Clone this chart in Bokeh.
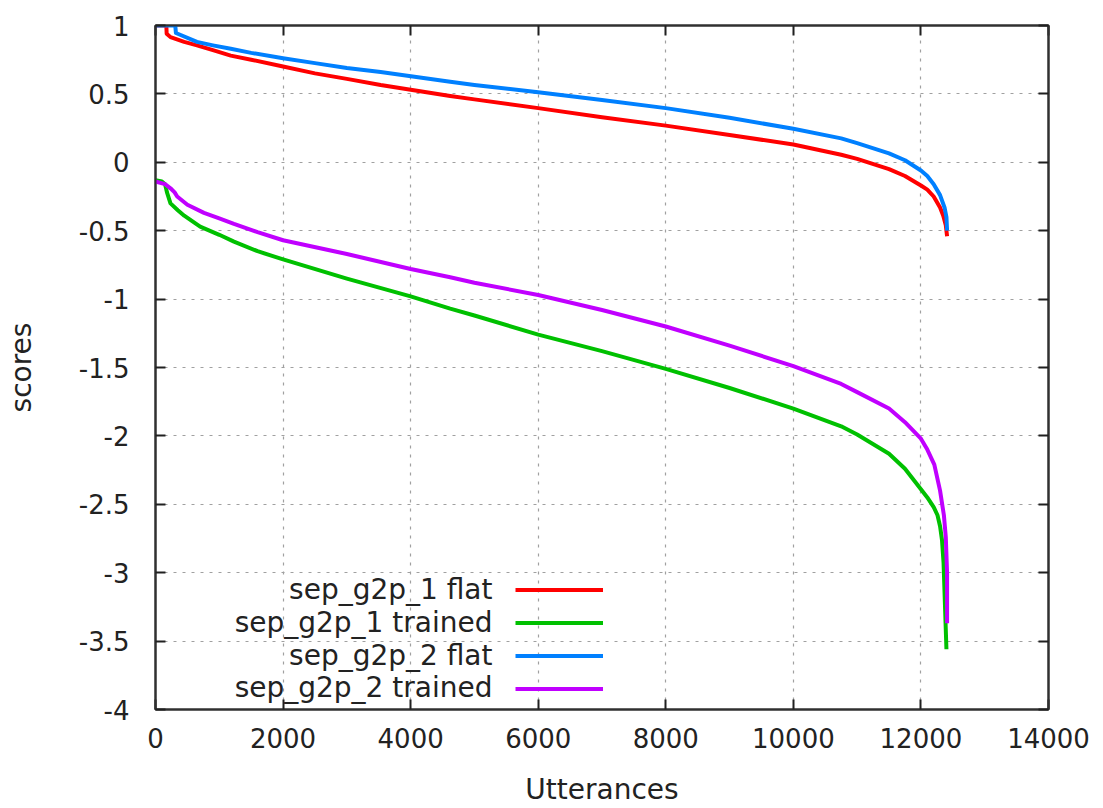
from bokeh.plotting import figure
from bokeh.models import FixedTicker, LinearAxis, Legend, LegendItem, Label
from bokeh.embed import file_html
from bokeh.resources import INLINE

# ---- data ----
red_x = [0, 170, 175, 235, 450, 650, 900, 1180, 1500, 2000, 2500, 3000, 3530, 4620, 5000, 6000, 7000, 8000, 9000, 10000,
         10750, 11000, 11500, 11750, 12000, 12100, 12200, 12300, 12350, 12390, 12410]
red_y = [1.0, 1.0, 0.94, 0.915, 0.88, 0.855, 0.82, 0.78, 0.75, 0.70, 0.65, 0.61, 0.565, 0.485, 0.46, 0.396, 0.33, 0.268, 0.20, 0.13,
         0.055, 0.025, -0.05, -0.10, -0.17, -0.20, -0.25, -0.33, -0.39, -0.46, -0.54]

green_x = [0, 100, 150, 180, 235, 350, 450, 700, 1000, 1230, 1600, 2000, 3000, 4000, 4620, 5000, 6000, 7000, 8000, 9000, 10000,
           10750, 11000, 11500, 11750, 12000, 12100, 12200, 12260, 12300, 12330, 12355, 12400]
green_y = [-0.13, -0.14, -0.16, -0.22, -0.30, -0.35, -0.39, -0.47, -0.53, -0.58, -0.65, -0.71, -0.85, -0.98, -1.07, -1.12, -1.26, -1.38, -1.51, -1.65, -1.80,
           -1.93, -1.99, -2.13, -2.24, -2.39, -2.45, -2.52, -2.58, -2.66, -2.76, -2.93, -3.56]

blue_x = [0, 310, 320, 650, 900, 1180, 1500, 2000, 2500, 3000, 3530, 4620, 5000, 6000, 7000, 8000, 9000, 10000,
          10750, 11000, 11500, 11750, 12000, 12100, 12200, 12300, 12370, 12400, 12410]
blue_y = [1.0, 1.0, 0.945, 0.88, 0.855, 0.83, 0.80, 0.76, 0.725, 0.69, 0.66, 0.589, 0.565, 0.512, 0.455, 0.396, 0.325, 0.245,
          0.175, 0.14, 0.065, 0.015, -0.06, -0.10, -0.16, -0.24, -0.33, -0.40, -0.50]

purple_x = [0, 150, 235, 300, 340, 500, 760, 1000, 1230, 1600, 2000, 3000, 4000, 4620, 5000, 6000, 7000, 8000, 9000, 10000,
            10750, 11000, 11500, 11750, 12000, 12100, 12210, 12300, 12360, 12390, 12410, 12410]
purple_y = [-0.14, -0.16, -0.19, -0.22, -0.25, -0.31, -0.37, -0.41, -0.45, -0.51, -0.57, -0.67, -0.78, -0.84, -0.88, -0.97, -1.08, -1.20, -1.34, -1.49,
            -1.62, -1.68, -1.80, -1.90, -2.02, -2.10, -2.21, -2.40, -2.58, -2.74, -3.0, -3.37]

series_names = ["sep_g2p_1 flat", "sep_g2p_1 trained", "sep_g2p_2 flat", "sep_g2p_2 trained"]
series_colors = ["#ff0000", "#00c000", "#0080ff", "#c000ff"]

x_ticks = [0, 2000, 4000, 6000, 8000, 10000, 12000, 14000]
x_tick_labels = ["0", "2000", "4000", "6000", "8000", "10000", "12000", "14000"]
y_ticks = [1, 0.5, 0, -0.5, -1, -1.5, -2, -2.5, -3, -3.5, -4]
y_tick_labels = ["1", "0.5", "0", "-0.5", "-1", "-1.5", "-2", "-2.5", "-3", "-3.5", "-4"]

FONT = "DejaVu Sans"
FS = "26px"
FS_TXT = "28px"
TXT = "#222222"

p = figure(width=1103, height=808, x_range=(0, 14000), y_range=(-4, 1),
           output_backend="svg", toolbar_location=None,
           min_border_left=155, min_border_right=55, min_border_top=25, min_border_bottom=95,
           background_fill_color="white", border_fill_color="white")

p.outline_line_color = "#303030"
p.outline_line_width = 2

# grid
for g in (p.xgrid, p.ygrid):
    g.grid_line_color = "#a0a0a0"
    g.grid_line_dash = "3 6"
    g.grid_line_width = 1.2
p.xgrid.ticker = FixedTicker(ticks=x_ticks)
p.ygrid.ticker = FixedTicker(ticks=y_ticks)

def style_axis(ax, ticks, labels=None, show_labels=True):
    ax.ticker = FixedTicker(ticks=ticks)
    ax.major_tick_in = 10
    ax.major_tick_out = 0
    ax.minor_tick_in = 0
    ax.minor_tick_out = 0
    ax.major_tick_line_color = "#202020"
    ax.major_tick_line_width = 2
    ax.axis_line_color = "#303030"
    ax.axis_line_width = 2
    if show_labels:
        ax.major_label_overrides = {t: l for t, l in zip(ticks, labels)}
        ax.major_label_text_font = FONT
        ax.major_label_text_font_size = FS
        ax.major_label_text_color = TXT
    else:
        ax.major_label_text_font_size = "0px"
        ax.major_label_text_alpha = 0

xa = p.xaxis[0]
ya = p.yaxis[0]
style_axis(xa, x_ticks, x_tick_labels)
style_axis(ya, y_ticks, y_tick_labels)
xa.major_label_standoff = 18
ya.major_label_standoff = 26
xa.axis_label = "Utterances"
ya.axis_label = "scores"
for ax in (xa, ya):
    ax.axis_label_text_font = FONT
    ax.axis_label_text_font_size = FS_TXT
    ax.axis_label_text_font_style = "normal"
    ax.axis_label_text_color = TXT
xa.axis_label_standoff = 22
ya.axis_label_standoff = 38

top_ax = LinearAxis()
right_ax = LinearAxis()
style_axis(top_ax, x_ticks, show_labels=False)
style_axis(right_ax, y_ticks, show_labels=False)
p.add_layout(top_ax, "above")
p.add_layout(right_ax, "right")

renderers = []
for xs, ys, c in zip([red_x, green_x, blue_x, purple_x], [red_y, green_y, blue_y, purple_y], series_colors):
    r = p.line(xs, ys, line_color=c, line_width=4, line_join="round")
    renderers.append(r)

# legend: lines on the right (labels drawn separately, right-aligned, gnuplot style)
items = [LegendItem(label=" ", renderers=[r]) for r in renderers]
legend = Legend(items=items, location=(360, 4), padding=0, margin=0, spacing=0,
                glyph_width=88, glyph_height=33, label_height=33, label_standoff=0,
                label_width=1, label_text_font_size="1px",
                background_fill_alpha=0, border_line_alpha=0)
p.add_layout(legend, "center")

row_y = [120, 87, 54, 22]
for name, yy in zip(series_names, row_y):
    p.add_layout(Label(x=337, y=yy, x_units="screen", y_units="screen", text=name,
                       text_align="right", text_baseline="middle",
                       text_font=FONT, text_font_size=FS_TXT, text_color=TXT))

open("out.html", "w").write(file_html(p, INLINE))
